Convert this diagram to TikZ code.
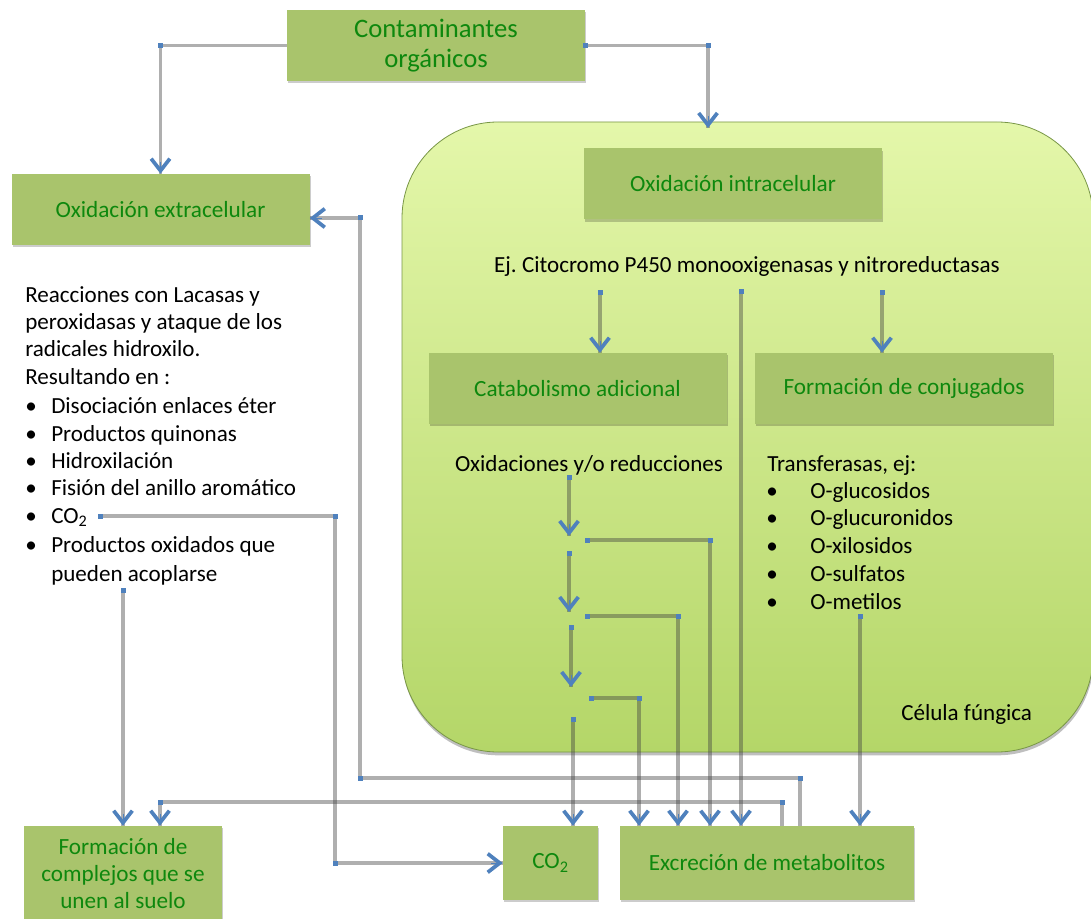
\documentclass[tikz,border=0pt]{standalone}
\usepackage{fontspec}
\setmainfont{Carlito}
\usetikzlibrary{arrows.meta,calc,shadows}
\definecolor{boxgreen}{RGB}{169,196,108}
\definecolor{txtgreen}{RGB}{14,136,14}
\definecolor{hblue}{RGB}{79,129,189}
\definecolor{celltop}{RGB}{228,247,170}
\definecolor{cellbot}{RGB}{180,214,104}
\definecolor{cellrim}{RGB}{120,150,70}
\newcommand{\tipat}[2]{\draw[tipseg] ($#1+#2$) -- #1;}
\newcommand{\hdl}[1]{\fill[hblue] ($#1+(-2.5,-2.5)$) rectangle ($#1+(2.5,2.5)$);}
\frenchspacing
\begin{document}
\begin{tikzpicture}[x=0.75pt,y=-0.75pt,
  gbox/.style={fill=boxgreen,text=txtgreen,font=\fontsize{17.4}{21}\selectfont,align=center,inner sep=0pt,
     drop shadow={shadow xshift=0.8pt,shadow yshift=-1.8pt,opacity=0.2,fill=black}},
  conn/.style={draw=black!75,draw opacity=0.42,line width=2.6pt},
  tipseg/.style={draw=hblue,line width=0.2pt,-{Straight Barb[length=9pt,width=14pt,line width=2.8pt,color=hblue]}},
  txt/.style={font=\fontsize{17.3}{21}\selectfont,inner sep=0pt,anchor=base west},
  cellbox/.style={draw=cellrim,line width=0.6pt,top color=celltop,bottom color=cellbot,rounded corners=72pt,
     minimum width=518.25pt,minimum height=472.5pt,inner sep=0pt,
     drop shadow={shadow xshift=0.5pt,shadow yshift=-2.5pt,opacity=0.25,fill=black}}
  ]
\useasboundingbox (0,0) rectangle (1091,919);
% fungal cell
\node[cellbox] (cell) at (747.5,437) {};
% boxes
\node[gbox,minimum width=223.5pt,minimum height=53.25pt,font=\fontsize{20}{22.5}\selectfont] (cont) at (436,45.5) {Contaminantes\\orgánicos};
\node[gbox,minimum width=223.5pt,minimum height=53.25pt] (oxe) at (160.5,209.5) {Oxidación extracelular};
\node[gbox,minimum width=223.5pt,minimum height=53.25pt] (oxi) at (733,184) {Oxidación intracelular};
\node[gbox,minimum width=223.5pt,minimum height=53.25pt] (cat) at (577.5,388.5) {Catabolismo adicional};
\node[gbox,minimum width=223.5pt,minimum height=53.25pt] (conj) at (904,388.5) {Formación de conjugados};
\node[gbox,minimum width=148.5pt,minimum height=72pt,font=\fontsize{17.4}{20.25}\selectfont] (form) at (123,874) {Formación de\\complejos que se\\unen al suelo};
\node[gbox,minimum width=71.25pt,minimum height=55.5pt] (co2) at (550.5,863) {CO\textsubscript{2}};
\node[gbox,minimum width=220.5pt,minimum height=55.5pt] (exc) at (767,863) {Excreción de metabolitos};
% texts
\node[txt,anchor=base] (ej) at (747,273) {Ej. Citocromo P450 monooxigenasas y nitroreductasas};
\node[txt,anchor=base] (oxr) at (589,471) {Oxidaciones y/o reducciones};
\node[txt] (tr) at (767,471) {Transferasas, ej:};
\node[txt] (t1) at (766,498) {\makebox[33pt][l]{•}O-glucosidos};
\node[txt] (t2) at (766,525) {\makebox[33pt][l]{•}O-glucuronidos};
\node[txt] (t3) at (766,553) {\makebox[33pt][l]{•}O-xilosidos};
\node[txt] (t4) at (766,581) {\makebox[33pt][l]{•}O-sulfatos};
\node[txt] (t5) at (766,609) {\makebox[33pt][l]{•}O-metilos};
\node[txt] (cel) at (901,720) {Célula fúngica};
\node[txt] (l1) at (25,303) {Reacciones con Lacasas y};
\node[txt] (l2) at (25,330) {peroxidasas y ataque de los};
\node[txt] (l3) at (25,357) {radicales hidroxilo.};
\node[txt] (l4) at (25,385) {Resultando en :};
\node[txt] (l5) at (25,413) {\makebox[19.5pt][l]{•}Disociación enlaces éter};
\node[txt] (l6) at (25,441) {\makebox[19.5pt][l]{•}Productos quinonas};
\node[txt] (l7) at (25,468) {\makebox[19.5pt][l]{•}Hidroxilación};
\node[txt] (l8) at (25,495) {\makebox[19.5pt][l]{•}Fisión del anillo aromático};
\node[txt] (l9) at (25,523) {\makebox[19.5pt][l]{•}CO\textsubscript{2}};
\node[txt] (l10) at (25,552) {\makebox[19.5pt][l]{•}Productos oxidados que};
\node[txt] (l11) at (25,581) {\hspace*{19.5pt}pueden acoplarse};
% connector points
\coordinate (cin) at (708,128);
\coordinate (ej1) at (600,293);
\coordinate (ej2) at (741,292);
\coordinate (ej3) at (882,293);
\coordinate (oa1) at (569,477); \coordinate (ob1) at (569,536);
\coordinate (sb1) at (587,540); \coordinate (eb1) at (710,540);
\coordinate (oa2) at (569,553); \coordinate (ob2) at (569,612);
\coordinate (sb2) at (587,616); \coordinate (eb2) at (678,616);
\coordinate (oa3) at (571,627); \coordinate (ob3) at (571,687);
\coordinate (sb3) at (591,698); \coordinate (eb3) at (639,698);
\coordinate (oa4) at (573,719);
\coordinate (met) at (860,616);
\coordinate (rx1) at (800,778); \coordinate (rx2) at (360,778); \coordinate (rx3) at (360,218);
\coordinate (fx1) at (782,802); \coordinate (fx2) at (160,802);
\coordinate (co2s) at (100,516); \coordinate (co2e) at (335,516);
\coordinate (aco) at (123,590);
% connectors
\draw[conn] (cont.west) -| (oxe.north);
\draw[conn] (cont.east) -| (cin);
\draw[conn] (ej1) -- (ej1 |- cat.north);
\draw[conn] (ej2) -- (ej2 |- exc.north);
\draw[conn] (ej3) -- (ej3 |- conj.north);
\draw[conn] (oa1) -- (ob1);
\draw[conn] (sb1) -- (eb1) -- (eb1 |- exc.north);
\draw[conn] (oa2) -- (ob2);
\draw[conn] (sb2) -- (eb2) -- (eb2 |- exc.north);
\draw[conn] (oa3) -- (ob3);
\draw[conn] (sb3) -- (eb3) -- (eb3 |- exc.north);
\draw[conn] (oa4) -- (oa4 |- co2.north);
\draw[conn] (met) -- (met |- exc.north);
\draw[conn] (rx1 |- exc.north) -- (rx1) -- (rx2) -- (rx3) -- (rx3 -| oxe.east);
\draw[conn] (fx1 |- exc.north) -- (fx1) -- (fx2) -- (fx2 |- form.north);
\draw[conn] (co2s) -- (co2e) -- (co2e |- co2.west) -- (co2.west);
\draw[conn] (aco) -- (aco |- form.north);
% arrow tips
\tipat{(oxe.north)}{(0,-12)}
\tipat{(cin)}{(0,-12)}
\tipat{(ej1 |- cat.north)}{(0,-12)}
\tipat{(ej2 |- exc.north)}{(0,-12)}
\tipat{(ej3 |- conj.north)}{(0,-12)}
\tipat{(ob1)}{(0,-12)}
\tipat{(ob2)}{(0,-12)}
\tipat{(ob3)}{(0,-12)}
\tipat{(eb1 |- exc.north)}{(0,-12)}
\tipat{(eb2 |- exc.north)}{(0,-12)}
\tipat{(eb3 |- exc.north)}{(0,-12)}
\tipat{(oa4 |- co2.north)}{(0,-12)}
\tipat{(met |- exc.north)}{(0,-12)}
\tipat{(rx3 -| oxe.east)}{(12,0)}
\tipat{(fx2 |- form.north)}{(0,-12)}
\tipat{(aco |- form.north)}{(0,-12)}
\tipat{(co2.west)}{(-12,0)}
% handles
\hdl{(oxe.north |- cont.west)}
\hdl{(cont.east)}
\hdl{(cin |- cont.east)}
\hdl{(ej1)} \hdl{(ej2)} \hdl{(ej3)}
\hdl{(oa1)} \hdl{(oa2)} \hdl{(oa3)} \hdl{(oa4)}
\hdl{(sb1)} \hdl{(sb2)} \hdl{(sb3)}
\hdl{(eb1)} \hdl{(eb2)} \hdl{(eb3)}
\hdl{(met)}
\hdl{(rx1)} \hdl{(rx2)} \hdl{(rx3)}
\hdl{(fx1)} \hdl{(fx2)}
\hdl{(co2s)} \hdl{(co2e)} \hdl{(co2e |- co2.west)}
\hdl{(aco)}
\end{tikzpicture}
\end{document}
